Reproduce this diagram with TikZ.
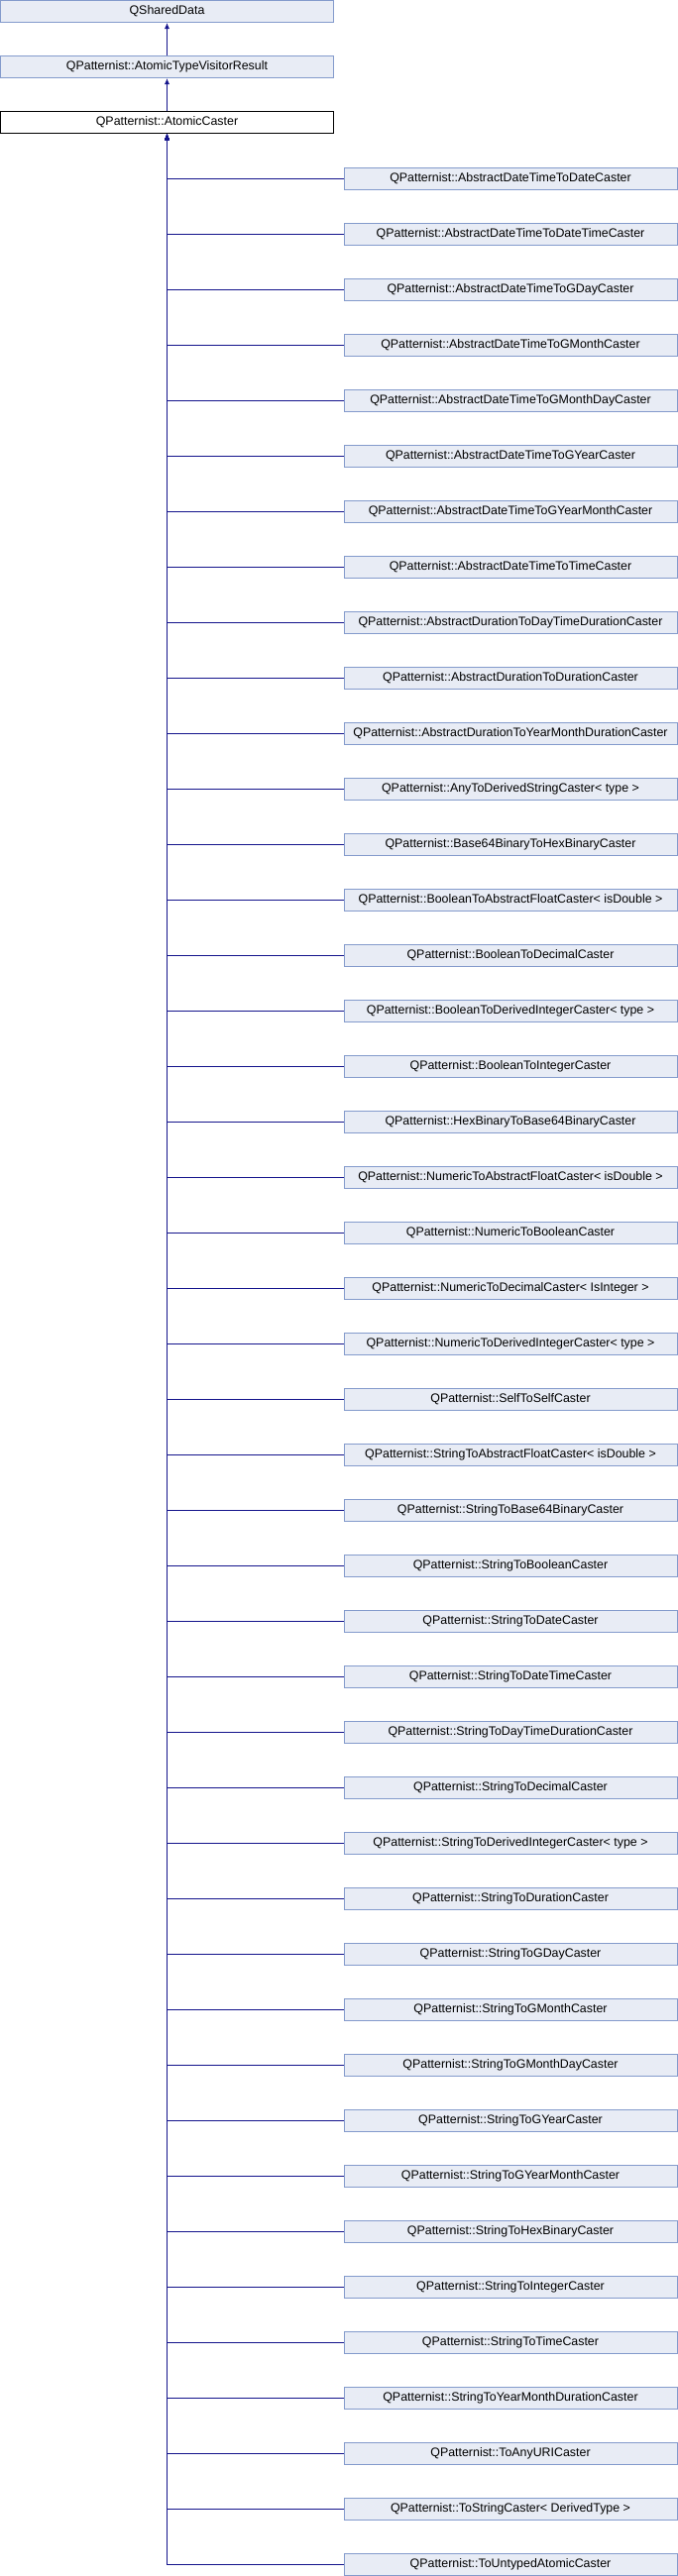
\documentclass[tikz,border=0pt]{standalone}
\usepackage{fontspec}
\setmainfont{Liberation Sans}
\usetikzlibrary{arrows.meta}

\definecolor{boxfill}{RGB}{232,236,245}
\definecolor{boxborder}{RGB}{132,155,204}
\definecolor{linkblue}{RGB}{20,20,140}

\begin{document}
\begin{tikzpicture}[x=1pt, y=-1pt]

\tikzset{class/.style = {shape=rectangle, draw=boxborder, fill=boxfill, line width=1pt, minimum width=336pt, minimum height=22pt, inner sep=0pt, font=\fontsize{12.4}{14}\selectfont}}
\tikzset{current/.style = {class, draw=black, fill=white}}
\tikzset{edge/.style = {-{Latex[length=6pt, width=5pt]}, draw=linkblue, line width=1pt}}

\useasboundingbox (0,0) rectangle (684,2600);

% base classes
\node[class] (qsd) at (168.5,11.5) {QSharedData};
\node[class] (atvr) at (168.5,67.5) {QPatternist::AtomicTypeVisitorResult};
\node[current] (ac) at (168.5,123.5) {QPatternist::AtomicCaster};

% derived classes
\node[class] (c1) at (515,180.5) {QPatternist::AbstractDateTimeToDateCaster};
\node[class] (c2) at (515,236.5) {QPatternist::AbstractDateTimeToDateTimeCaster};
\node[class] (c3) at (515,292.5) {QPatternist::AbstractDateTimeToGDayCaster};
\node[class] (c4) at (515,348.5) {QPatternist::AbstractDateTimeToGMonthCaster};
\node[class] (c5) at (515,404.5) {QPatternist::AbstractDateTimeToGMonthDayCaster};
\node[class] (c6) at (515,460.5) {QPatternist::AbstractDateTimeToGYearCaster};
\node[class] (c7) at (515,516.5) {QPatternist::AbstractDateTimeToGYearMonthCaster};
\node[class] (c8) at (515,572.5) {QPatternist::AbstractDateTimeToTimeCaster};
\node[class] (c9) at (515,628.5) {QPatternist::AbstractDurationToDayTimeDurationCaster};
\node[class] (c10) at (515,684.5) {QPatternist::AbstractDurationToDurationCaster};
\node[class] (c11) at (515,740.5) {QPatternist::AbstractDurationToYearMonthDurationCaster};
\node[class] (c12) at (515,796.5) {QPatternist::AnyToDerivedStringCaster< type >};
\node[class] (c13) at (515,852.5) {QPatternist::Base64BinaryToHexBinaryCaster};
\node[class] (c14) at (515,908.5) {QPatternist::BooleanToAbstractFloatCaster< isDouble >};
\node[class] (c15) at (515,964.5) {QPatternist::BooleanToDecimalCaster};
\node[class] (c16) at (515,1020.5) {QPatternist::BooleanToDerivedIntegerCaster< type >};
\node[class] (c17) at (515,1076.5) {QPatternist::BooleanToIntegerCaster};
\node[class] (c18) at (515,1132.5) {QPatternist::HexBinaryToBase64BinaryCaster};
\node[class] (c19) at (515,1188.5) {QPatternist::NumericToAbstractFloatCaster< isDouble >};
\node[class] (c20) at (515,1244.5) {QPatternist::NumericToBooleanCaster};
\node[class] (c21) at (515,1300.5) {QPatternist::NumericToDecimalCaster< IsInteger >};
\node[class] (c22) at (515,1356.5) {QPatternist::NumericToDerivedIntegerCaster< type >};
\node[class] (c23) at (515,1412.5) {QPatternist::SelfToSelfCaster};
\node[class] (c24) at (515,1468.5) {QPatternist::StringToAbstractFloatCaster< isDouble >};
\node[class] (c25) at (515,1524.5) {QPatternist::StringToBase64BinaryCaster};
\node[class] (c26) at (515,1580.5) {QPatternist::StringToBooleanCaster};
\node[class] (c27) at (515,1636.5) {QPatternist::StringToDateCaster};
\node[class] (c28) at (515,1692.5) {QPatternist::StringToDateTimeCaster};
\node[class] (c29) at (515,1748.5) {QPatternist::StringToDayTimeDurationCaster};
\node[class] (c30) at (515,1804.5) {QPatternist::StringToDecimalCaster};
\node[class] (c31) at (515,1860.5) {QPatternist::StringToDerivedIntegerCaster< type >};
\node[class] (c32) at (515,1916.5) {QPatternist::StringToDurationCaster};
\node[class] (c33) at (515,1972.5) {QPatternist::StringToGDayCaster};
\node[class] (c34) at (515,2028.5) {QPatternist::StringToGMonthCaster};
\node[class] (c35) at (515,2084.5) {QPatternist::StringToGMonthDayCaster};
\node[class] (c36) at (515,2140.5) {QPatternist::StringToGYearCaster};
\node[class] (c37) at (515,2196.5) {QPatternist::StringToGYearMonthCaster};
\node[class] (c38) at (515,2252.5) {QPatternist::StringToHexBinaryCaster};
\node[class] (c39) at (515,2308.5) {QPatternist::StringToIntegerCaster};
\node[class] (c40) at (515,2364.5) {QPatternist::StringToTimeCaster};
\node[class] (c41) at (515,2420.5) {QPatternist::StringToYearMonthDurationCaster};
\node[class] (c42) at (515,2476.5) {QPatternist::ToAnyURICaster};
\node[class] (c43) at (515,2532.5) {QPatternist::ToStringCaster< DerivedType >};
\node[class] (c44) at (515,2588.5) {QPatternist::ToUntypedAtomicCaster};

% inheritance
\draw [edge] (atvr) -- (qsd);
\draw [edge] (ac) -- (atvr);
\draw [edge] (c1.west) -| (ac.south);
\draw [edge] (c2.west) -| (ac.south);
\draw [edge] (c3.west) -| (ac.south);
\draw [edge] (c4.west) -| (ac.south);
\draw [edge] (c5.west) -| (ac.south);
\draw [edge] (c6.west) -| (ac.south);
\draw [edge] (c7.west) -| (ac.south);
\draw [edge] (c8.west) -| (ac.south);
\draw [edge] (c9.west) -| (ac.south);
\draw [edge] (c10.west) -| (ac.south);
\draw [edge] (c11.west) -| (ac.south);
\draw [edge] (c12.west) -| (ac.south);
\draw [edge] (c13.west) -| (ac.south);
\draw [edge] (c14.west) -| (ac.south);
\draw [edge] (c15.west) -| (ac.south);
\draw [edge] (c16.west) -| (ac.south);
\draw [edge] (c17.west) -| (ac.south);
\draw [edge] (c18.west) -| (ac.south);
\draw [edge] (c19.west) -| (ac.south);
\draw [edge] (c20.west) -| (ac.south);
\draw [edge] (c21.west) -| (ac.south);
\draw [edge] (c22.west) -| (ac.south);
\draw [edge] (c23.west) -| (ac.south);
\draw [edge] (c24.west) -| (ac.south);
\draw [edge] (c25.west) -| (ac.south);
\draw [edge] (c26.west) -| (ac.south);
\draw [edge] (c27.west) -| (ac.south);
\draw [edge] (c28.west) -| (ac.south);
\draw [edge] (c29.west) -| (ac.south);
\draw [edge] (c30.west) -| (ac.south);
\draw [edge] (c31.west) -| (ac.south);
\draw [edge] (c32.west) -| (ac.south);
\draw [edge] (c33.west) -| (ac.south);
\draw [edge] (c34.west) -| (ac.south);
\draw [edge] (c35.west) -| (ac.south);
\draw [edge] (c36.west) -| (ac.south);
\draw [edge] (c37.west) -| (ac.south);
\draw [edge] (c38.west) -| (ac.south);
\draw [edge] (c39.west) -| (ac.south);
\draw [edge] (c40.west) -| (ac.south);
\draw [edge] (c41.west) -| (ac.south);
\draw [edge] (c42.west) -| (ac.south);
\draw [edge] (c43.west) -| (ac.south);
\draw [edge] (c44.west) -| (ac.south);

\end{tikzpicture}
\end{document}
